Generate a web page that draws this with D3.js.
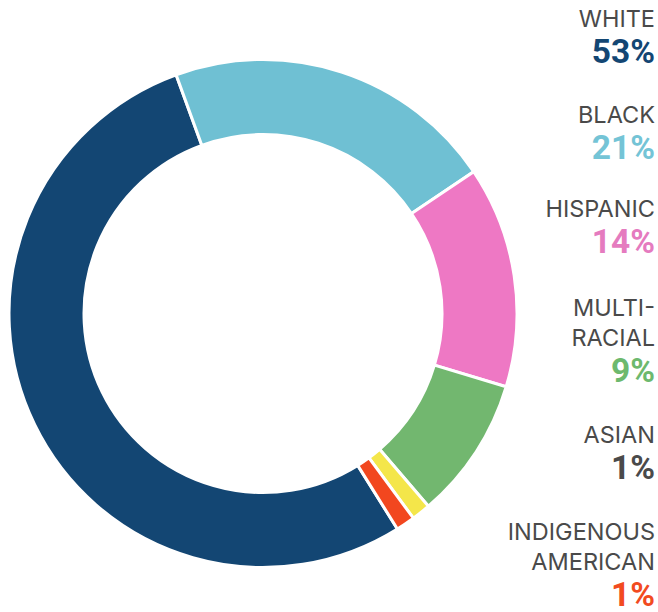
<!DOCTYPE html>
<html>
<head>
<meta charset="utf-8">
<script src="https://cdn.jsdelivr.net/npm/d3@7"></script>
<style>
  body { margin:0; background:#fff; }
  svg { display:block; }
</style>
</head>
<body>
<div id="chart"></div>
<script>
// data, in legend order
const groups  = ["WHITE", "BLACK", "HISPANIC", "MULTI-RACIAL", "ASIAN", "INDIGENOUS AMERICAN"];
const shares  = [53, 21, 14, 9, 1.2, 1.2];
const shown   = ["53%", "21%", "14%", "9%", "1%", "1%"];
const labelLines = [["WHITE"], ["BLACK"], ["HISPANIC"], ["MULTI-", "RACIAL"], ["ASIAN"], ["INDIGENOUS", "AMERICAN"]];
const sliceColors = ["#134673", "#6fc0d3", "#ee78c4", "#72b76f", "#f4e64a", "#f2471f"];
const pctColors   = ["#134673", "#74c4d6", "#e57bbf", "#6db96e", "#4a4a4a", "#f24b1f"];

const width = 658, height = 612;
const cx = 263, cy = 313.5;
const outerR = 254, innerR = 179;

const svg = d3.select("#chart").append("svg")
    .attr("width", width).attr("height", height);

// white starts so that black begins at -20deg from the top
const total = d3.sum(shares);
const endWhite = -20 * Math.PI / 180 + 2 * Math.PI;
const start = endWhite - shares[0] / total * 2 * Math.PI;

const pie = d3.pie().sort(null).value(d => d)
    .startAngle(start).endAngle(start + 2 * Math.PI);
const arc = d3.arc().innerRadius(innerR).outerRadius(outerR);

svg.append("g")
    .attr("transform", `translate(${cx},${cy})`)
    .selectAll("path")
    .data(pie(shares))
    .join("path")
    .attr("d", arc)
    .attr("fill", (d, i) => sliceColors[i])
    .attr("stroke", "#fff")
    .attr("stroke-width", 3);

// legend on the right, right aligned
const legendX = 655;
const lineGap = 30;
// baseline of the first label line for each group
const legendTops = [27, 123, 217, 316, 443, 540];

const legend = svg.append("g")
    .attr("text-anchor", "end");

groups.forEach((g, i) => {
    const lines = labelLines[i];
    lines.forEach((t, j) => {
        legend.append("text")
            .attr("x", legendX)
            .attr("y", legendTops[i] + j * lineGap)
            .style("font-family", "Inter, Roboto, sans-serif")
            .style("font-size", "23.5px")
            .style("fill", "#4a4a4a")
            .text(t);
    });
    legend.append("text")
        .attr("x", legendX)
        .attr("y", legendTops[i] + (lines.length - 1) * lineGap + 35.5)
        .style("font-family", "Roboto, sans-serif")
        .style("font-size", "33.5px")
        .style("font-weight", "bold")
        .style("fill", pctColors[i])
        .text(shown[i]);
});
</script>
</body>
</html>
